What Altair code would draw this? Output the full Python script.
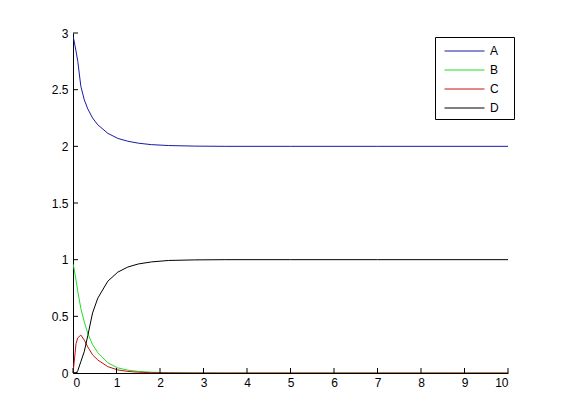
import altair as alt
import pandas as pd

# time samples (solver steps)
t = [0, 0.02, 0.07, 0.11, 0.18, 0.26, 0.34, 0.45, 0.57, 0.8, 1.03, 1.26, 1.5, 1.8, 2.2, 2.8, 3.5, 5, 7, 10]
A = [2.97, 2.94, 2.84, 2.75, 2.53, 2.41, 2.33, 2.25, 2.19, 2.115, 2.07, 2.045, 2.028, 2.015, 2.007, 2.002, 2.0, 2.0, 2.0, 2.0]
B = [0.96, 0.93, 0.82, 0.72, 0.57, 0.45, 0.35, 0.25, 0.18, 0.09, 0.045, 0.025, 0.014, 0.007, 0.003, 0.001, 0.0, 0.0, 0.0, 0.0]
C = [0.0, 0.07, 0.26, 0.31, 0.335, 0.29, 0.23, 0.16, 0.115, 0.056, 0.027, 0.014, 0.007, 0.003, 0.001, 0.0, 0.0, 0.0, 0.0, 0.0]
D = [0.0, 0.0, 0.0, 0.02, 0.10, 0.19, 0.33, 0.53, 0.66, 0.81, 0.89, 0.935, 0.962, 0.98, 0.993, 0.998, 1.0, 1.0, 1.0, 1.0]

series_names = ["A", "B", "C", "D"]
series_colors = ["#1a1aa6", "#22dd22", "#c81010", "#000000"]
x_ticks = [0, 1, 2, 3, 4, 5, 6, 7, 8, 9, 10]
y_ticks = [0, 0.5, 1, 1.5, 2, 2.5, 3]

rows = []
for i, (name, vals) in enumerate(zip(series_names, [A, B, C, D])):
    for ti, v in zip(t, vals):
        rows.append({"t": ti, "value": v, "series": name, "k": i})
df = pd.DataFrame(rows)

W, H = 435, 340
FONT = "Liberation Sans"

x_scale = alt.Scale(domain=[0, 10], nice=False, zero=False)
y_scale = alt.Scale(domain=[0, 3], nice=False, zero=False)

x_axis = alt.Axis(title=None, values=x_ticks, tickSize=0, labelPadding=4,
                  domainColor="black", labelColor="black", labelFont=FONT,
                  labelFontSize=12, grid=False, format="d")
y_axis = alt.Axis(title=None, values=y_ticks, tickSize=0, labelPadding=5,
                  domainColor="black", labelColor="black", labelFont=FONT,
                  labelFontSize=12, grid=False, format=".1~f")

# invisible 1px-high spacer title that only widens the legend frame
spacer_title = "M" * 82

lines = alt.Chart(df).mark_line(strokeWidth=1, clip=True).encode(
    x=alt.X("t:Q", scale=x_scale, axis=x_axis, title=None),
    y=alt.Y("value:Q", scale=y_scale, axis=y_axis, title=None),
    color=alt.Color("series:N",
                    scale=alt.Scale(domain=series_names, range=series_colors),
                    legend=alt.Legend(title=spacer_title, titleFontSize=1, titlePadding=2,
                                      titleColor="white", titleLimit=400,
                                      titleFont=FONT,
                                      orient="none", legendX=362, legendY=4,
                                      symbolType="stroke", symbolSize=1600,
                                      symbolStrokeWidth=1, symbolOffset=4,
                                      labelFontSize=12,
                                      labelFont=FONT, labelColor="black",
                                      strokeColor="black", fillColor="white",
                                      padding=5, rowPadding=7, labelOffset=5,
                                      clipHeight=12, cornerRadius=0)),
    order=alt.Order("k:Q"),
)

xt = alt.Chart(pd.DataFrame({"v": x_ticks})).mark_rule(color="black", strokeWidth=1).encode(
    x=alt.X("v:Q", scale=x_scale, axis=x_axis, title=None),
    y=alt.value(H), y2=alt.value(H - 5),
)
yt = alt.Chart(pd.DataFrame({"v": y_ticks})).mark_rule(color="black", strokeWidth=1).encode(
    y=alt.Y("v:Q", scale=y_scale, axis=y_axis, title=None),
    x=alt.value(0), x2=alt.value(5),
)

chart = alt.layer(lines, xt, yt).properties(
    width=W, height=H,
    autosize=alt.AutoSizeParams(type="none"),
    padding={"left": 65, "top": 25, "right": 40, "bottom": 40},
    background="white",
).configure_view(stroke=None)

chart.save("out.html", embed_options={"renderer": "svg", "actions": False})
